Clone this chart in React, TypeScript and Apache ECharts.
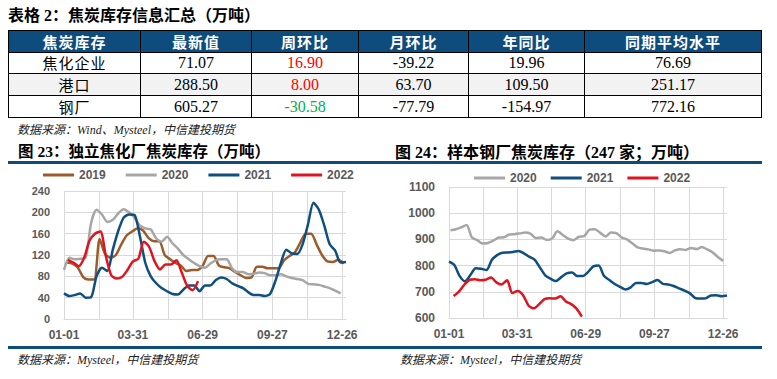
import React, { useEffect, useRef } from "react";
import * as echarts from "echarts";

// ---------- table data ----------
const tableTitle = "表格 2：焦炭库存信息汇总（万吨）";
const tableHeaders = ["焦炭库存", "最新值", "周环比", "月环比", "年同比", "同期平均水平"];
const tableRowNames = ["焦化企业", "港口", "钢厂"];
const latestValues = ["71.07", "288.50", "605.27"];
const weekChange = ["16.90", "8.00", "-30.58"];
const monthChange = ["-39.22", "63.70", "-77.79"];
const yearChange = ["19.96", "109.50", "-154.97"];
const avgLevel = ["76.69", "251.17", "772.16"];

// ---------- chart texts ----------
const source1 = "数据来源：Wind、Mysteel，中信建投期货";
const source2 = "数据来源：Mysteel，中信建投期货";
const chart1Title = "图 23：独立焦化厂焦炭库存（万吨）";
const chart2Title = "图 24：样本钢厂焦炭库存（247 家；万吨）";

// ---------- x axis ----------
const xTickLabels = ["01-01", "03-31", "06-29", "09-27", "12-26"];
const gridDays = [0, 45, 89, 134, 179, 224, 269, 314, 359];
const dayCount = 365;
const dayCategories: string[] = [];
for (let i = 0; i < dayCount; i++) {
  const d = new Date(2021, 0, 1 + i);
  const mm = String(d.getMonth() + 1).padStart(2, "0");
  const dd = String(d.getDate()).padStart(2, "0");
  dayCategories.push(mm + "-" + dd);
}

// ---------- left chart (独立焦化厂) weekly values ----------
const coke2019Start = 4;
const coke2019 = [106, 104, 96, 78, 74, 74, 150, 122, 115, 120, 140, 157, 164, 170, 166, 152, 146, 146, 120, 112, 105, 100, 90, 92, 92, 100, 118, 118, 100, 97, 95, 88, 82, 77, 78, 98, 98, 95, 95, 95, 110, 118, 125, 143, 160, 160, 140, 120, 108, 107, 111, 104];
const coke2020Start = 0;
const coke2020 = [92, 115, 112, 113, 115, 180, 205, 196, 182, 186, 198, 206, 200, 190, 175, 170, 168, 151, 145, 154, 142, 132, 120, 112, 105, 99, 96, 104, 110, 112, 112, 95, 88, 88, 84, 85, 87, 86, 82, 82, 84, 80, 77, 75, 73, 66, 65, 64, 61, 58, 53, 48];
const coke2021Start = 0;
const coke2021 = [48, 43, 45, 48, 40, 41, 80, 96, 90, 130, 165, 190, 196, 195, 155, 105, 80, 67, 58, 52, 47, 46, 55, 63, 63, 52, 63, 63, 73, 78, 75, 67, 62, 58, 50, 45, 45, 43, 47, 72, 105, 130, 123, 122, 140, 178, 218, 205, 175, 140, 128, 106, 107];
const coke2022Start = 5;
const coke2022 = [111, 106, 99, 115, 147, 160, 164, 118, 82, 76, 79, 92, 108, 113, 145, 135, 108, 93, 102, 102, 110, 87, 62, 54, 71];

// ---------- right chart (样本钢厂) weekly values ----------
const steel2020Start = 2;
const steel2020 = [935, 939, 946, 955, 907, 897, 884, 886, 895, 907, 908, 919, 920, 923, 926, 921, 905, 907, 898, 904, 931, 917, 903, 897, 910, 913, 937, 939, 925, 911, 926, 924, 908, 900, 885, 870, 865, 862, 857, 858, 855, 848, 858, 862, 860, 867, 863, 871, 862, 851, 833, 818];
const steel2021Start = 0;
const steel2021 = [815, 802, 760, 740, 764, 790, 788, 783, 821, 840, 849, 850, 852, 856, 847, 834, 823, 793, 763, 750, 741, 756, 770, 774, 760, 760, 775, 797, 800, 760, 745, 730, 719, 709, 717, 734, 734, 730, 737, 745, 730, 728, 722, 713, 705, 695, 677, 674, 675, 686, 687, 683, 686];
const steel2022Start = 6;
const steel2022 = [684, 701, 727, 746, 748, 744, 746, 755, 736, 728, 744, 695, 703, 687, 648, 637, 653, 672, 675, 674, 683, 663, 653, 636, 605];

const COLORS: Record<string, string> = {
  "2019": "#9c5b2c",
  "2020": "#a6a6a6",
  "2021": "#0f4f7f",
  "2022": "#e0141e",
};
const NAVY = "#0f4c7e";
const AXIS_FONT = '"Liberation Sans", Arial, sans-serif';
const CJK_SERIF = '"Liberation Serif", "Noto Sans CJK SC", serif';

function weekly(start: number, values: number[]) {
  return values.map((v, i) => [start + 7 * i, v]);
}

function lineSeries(name: string, data: number[][]) {
  return {
    name,
    type: "line",
    data,
    showSymbol: false,
    symbol: "none",
    smooth: 0.25,
    lineStyle: { width: 2.5, color: COLORS[name] },
    itemStyle: { color: COLORS[name] },
    emphasis: { disabled: true },
  };
}

function makeOption(cfg: any) {
  return {
    animation: false,
    legend: {
      top: cfg.legendTop,
      left: cfg.legendLeft,
      padding: 0,
      itemGap: cfg.itemGap,
      itemWidth: 31,
      itemHeight: 3,
      icon: "rect",
      textStyle: { color: "#595959", fontWeight: "bold", fontSize: 12, fontFamily: AXIS_FONT },
      data: cfg.series.map((s: any) => s.name),
    },
    grid: cfg.grid,
    xAxis: {
      type: "category",
      data: dayCategories,
      boundaryGap: false,
      axisLine: { show: true, lineStyle: { color: "#d9d9d9", width: 1 } },
      axisTick: { show: false },
      axisLabel: {
        interval: (_i: number, v: string) => xTickLabels.includes(v),
        color: "#595959",
        fontWeight: "bold",
        fontSize: 12,
        fontFamily: AXIS_FONT,
        margin: 10,
      },
      splitLine: {
        show: true,
        interval: (i: number) => gridDays.includes(i),
        lineStyle: { color: "#d9d9d9", width: 1 },
      },
    },
    yAxis: {
      type: "value",
      min: cfg.yMin,
      max: cfg.yMax,
      interval: cfg.yInterval,
      axisLine: { show: false },
      axisTick: { show: false },
      axisLabel: {
        color: "#595959",
        fontWeight: "bold",
        fontSize: cfg.yFontSize,
        fontFamily: AXIS_FONT,
        margin: 14,
        formatter: (v: number) => String(v),
      },
      splitLine: { lineStyle: { color: "#d9d9d9", width: 1 } },
    },
    series: cfg.series,
  };
}

function Chart({ option, style }: { option: any; style: React.CSSProperties }) {
  const ref = useRef<HTMLDivElement>(null);
  useEffect(() => {
    const chart = echarts.init(ref.current!, null, { renderer: "svg" });
    chart.setOption(option);
    return () => chart.dispose();
  }, []);
  return <div ref={ref} style={style} />;
}

const leftOption = makeOption({
  legendTop: 4,
  legendLeft: 43,
  itemGap: 20,
  grid: { left: 64, right: 44, top: 26, bottom: 26 },
  yMin: 0,
  yMax: 240,
  yInterval: 40,
  yFontSize: 11,
  series: [
    lineSeries("2019", weekly(coke2019Start, coke2019)),
    lineSeries("2020", weekly(coke2020Start, coke2020)),
    lineSeries("2021", weekly(coke2021Start, coke2021)),
    lineSeries("2022", weekly(coke2022Start, coke2022)),
  ],
});

const rightOption = makeOption({
  legendTop: 7,
  legendLeft: 84,
  itemGap: 14,
  grid: { left: 59, right: 50, top: 22, bottom: 29 },
  yMin: 600,
  yMax: 1100,
  yInterval: 100,
  yFontSize: 12,
  series: [
    lineSeries("2020", weekly(steel2020Start, steel2020)),
    lineSeries("2021", weekly(steel2021Start, steel2021)),
    lineSeries("2022", weekly(steel2022Start, steel2022)),
  ],
});

const colWidths = [132, 111, 107, 110, 116, 177];
const rowHeights = [22, 21, 22, 22];

function changeColor(v: string) {
  return v.startsWith("-") ? "#00b050" : "#ff0000";
}

export default function App() {
  const cellBase: React.CSSProperties = {
    border: "1px solid #000",
    padding: 0,
    textAlign: "center",
    verticalAlign: "middle",
    whiteSpace: "nowrap",
  };
  const numStyle: React.CSSProperties = {
    ...cellBase,
    fontFamily: '"Liberation Serif", "Times New Roman", serif',
    fontSize: 16,
    color: "#000",
  };
  const rows = tableRowNames.map((name, r) => [
    name,
    latestValues[r],
    weekChange[r],
    monthChange[r],
    yearChange[r],
    avgLevel[r],
  ]);
  return (
    <div
      style={{
        position: "fixed",
        left: 0,
        top: 0,
        width: 777,
        height: 379,
        background: "#fff",
        overflow: "hidden",
      }}
    >
      <div
        style={{
          position: "absolute",
          left: 8,
          top: 7,
          height: 18,
          lineHeight: "18px",
          fontFamily: CJK_SERIF,
          fontWeight: "bold",
          fontSize: 16,
          color: "#000",
          whiteSpace: "nowrap",
        }}
      >
        {tableTitle}
      </div>
      <table
        style={{
          position: "absolute",
          left: 8,
          top: 30,
          width: 753,
          borderCollapse: "collapse",
          tableLayout: "fixed",
        }}
      >
        <colgroup>
          {colWidths.map((w, i) => (
            <col key={i} style={{ width: w }} />
          ))}
        </colgroup>
        <tbody>
          <tr style={{ height: rowHeights[0], background: NAVY }}>
            {tableHeaders.map((h, i) => (
              <td
                key={i}
                style={{
                  ...cellBase,
                  color: "#fff",
                  fontFamily: '"Noto Sans CJK SC", sans-serif',
                  fontWeight: "bold",
                  fontSize: 15,
                  letterSpacing: 1,
                  lineHeight: "18px",
                }}
              >
                {h}
              </td>
            ))}
          </tr>
          {rows.map((row, r) => (
            <tr key={r} style={{ height: rowHeights[r + 1], background: r === 1 ? "#f2f2f2" : "#fff" }}>
              {row.map((c, i) =>
                i === 0 ? (
                  <td
                    key={i}
                    style={{
                      ...cellBase,
                      fontFamily: '"Noto Sans CJK SC", sans-serif',
                      fontSize: 15,
                      letterSpacing: 1,
                      lineHeight: "18px",
                      color: "#000",
                    }}
                  >
                    {c}
                  </td>
                ) : (
                  <td
                    key={i}
                    style={{
                      ...numStyle,
                      lineHeight: "18px",
                      color: i === 2 ? changeColor(c) : "#000",
                    }}
                  >
                    {c}
                  </td>
                )
              )}
            </tr>
          ))}
        </tbody>
      </table>
      <div
        style={{
          position: "absolute",
          left: 17,
          top: 122,
          lineHeight: "16px",
          fontFamily: CJK_SERIF,
          fontStyle: "italic",
          fontSize: 12,
          color: "#222",
          whiteSpace: "nowrap",
        }}
      >
        {source1}
      </div>
      <div
        style={{
          position: "absolute",
          left: 18,
          top: 143,
          lineHeight: "18px",
          fontFamily: CJK_SERIF,
          fontWeight: "bold",
          fontSize: 15.5,
          color: "#000",
          whiteSpace: "nowrap",
        }}
      >
        {chart1Title}
      </div>
      <div
        style={{
          position: "absolute",
          left: 395,
          top: 144,
          lineHeight: "18px",
          fontFamily: CJK_SERIF,
          fontWeight: "bold",
          fontSize: 16,
          color: "#000",
          whiteSpace: "nowrap",
        }}
      >
        {chart2Title}
      </div>
      <Chart option={leftOption} style={{ position: "absolute", left: 0, top: 165, width: 390, height: 180 }} />
      <Chart option={rightOption} style={{ position: "absolute", left: 390, top: 165, width: 387, height: 182 }} />
      <div style={{ position: "absolute", left: 8, top: 161, width: 754, height: 3, background: NAVY }} />
      <div style={{ position: "absolute", left: 8, top: 346, width: 754, height: 3, background: NAVY }} />
      <div
        style={{
          position: "absolute",
          left: 17,
          top: 352,
          lineHeight: "16px",
          fontFamily: CJK_SERIF,
          fontStyle: "italic",
          fontSize: 12,
          color: "#222",
          whiteSpace: "nowrap",
        }}
      >
        {source2}
      </div>
      <div
        style={{
          position: "absolute",
          left: 400,
          top: 352,
          lineHeight: "16px",
          fontFamily: CJK_SERIF,
          fontStyle: "italic",
          fontSize: 12,
          color: "#222",
          whiteSpace: "nowrap",
        }}
      >
        {source2}
      </div>
    </div>
  );
}
